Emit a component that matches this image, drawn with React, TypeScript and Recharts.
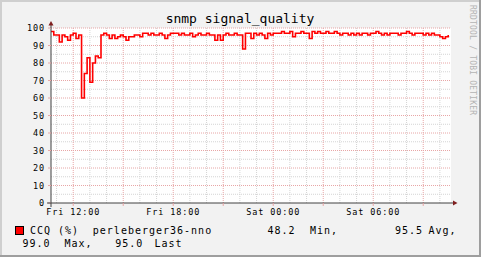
import { LineChart, Line, XAxis, YAxis, ReferenceLine, ReferenceDot, CartesianGrid } from "recharts";

// one sample every 10 minutes, first sample Fri 10:40
const STEP = 10;
const ccq = [
  98, 96, 96, 92, 96, 95, 93, 96, 97, 94, 96,
  60, 74, 83, 69, 80, 84, 83,
  96, 97, 96, 94, 96, 94, 95,
  96, 95, 93, 95, 95, 96, 96, 95, 97, 97, 96, 97, 96, 96, 97, 96, 94, 96, 97, 97, 97, 96, 97, 96, 96, 97, 95, 96, 97,
  96, 96, 97, 96, 96, 93, 96, 93, 96, 97, 96, 96, 97, 96, 96, 88, 97, 97, 94, 97, 96, 97, 96, 94, 97, 96, 97, 97,
  97, 98, 97, 97, 98, 95, 97, 97, 98, 97, 97, 94, 98, 97, 98, 97, 97, 98, 97, 97, 98, 97, 96, 97, 97, 96, 97, 96, 97,
  96, 97, 97, 96, 97, 97, 98, 97, 96, 97, 96, 97, 97, 97, 96, 97, 97, 98, 97, 96, 97, 97, 97, 96, 97, 96, 97, 96, 96, 95, 94, 95, 96,
];

const yTicks = [0, 10, 20, 30, 40, 50, 60, 70, 80, 90, 100];
const yMinor = [5, 15, 25, 35, 45, 55, 65, 75, 85, 95];
const xMajor = [80, 260, 440, 620, 800, 980, 1160, 1340];
const xMinor = [20, 140, 200, 320, 380, 500, 560, 680, 740, 860, 920, 1040, 1100, 1220, 1280, 1400];
const xLabelAt = [80, 440, 800, 1160];
const xLabelText = ["Fri 12:00", "Fri 18:00", "Sat 00:00", "Sat 06:00"];

const title = "snmp signal_quality";
const legendName = "CCQ (%)";
const legendHost = "perleberger36-nno";
const statValues = ["48.2", "95.5", "99.0", "95.0"];
const statNames = ["Min,", "Avg,", "Max,", "Last"];

const data = ccq.map((v, i) => ({ t: i * STEP, v }));

const MONO = "DejaVu Sans Mono, monospace";
const GRID = "#d4d4d4";
const MGRID = "#e8a6a6";
const AXIS = "#404040";
const ARROW = "#7f1f1f";

const XTick = (p: any) => {
  const idx = xLabelAt.indexOf(p.payload.value);
  if (idx < 0) return <g />;
  return (
    <text x={p.x} y={p.y} dy={6} textAnchor="middle" fontFamily={MONO} fontSize={8.5} fill="#000" style={{ letterSpacing: "0.9px" }}>
      {xLabelText[idx]}
    </text>
  );
};

const YTick = (p: any) => (
  <text x={p.x + 1} y={p.y} dy={3} textAnchor="end" fontFamily={MONO} fontSize={8.5} fill="#000" style={{ letterSpacing: "0.9px" }}>
    {p.payload.value}
  </text>
);

const UpArrow = (p: any) => (
  <g>
    <line x1={p.cx} y1={p.cy} x2={p.cx} y2={p.cy - 3} stroke={AXIS} strokeWidth={1} />
    <path d={`M${p.cx - 2.5} ${p.cy - 2.5}L${p.cx + 2.5} ${p.cy - 2.5}L${p.cx} ${p.cy - 7}Z`} fill={ARROW} />
  </g>
);

const RightArrow = (p: any) => (
  <g>
    <line x1={p.cx} y1={p.cy} x2={p.cx + 3} y2={p.cy} stroke={AXIS} strokeWidth={1} />
    <path d={`M${p.cx + 2} ${p.cy - 2.5}L${p.cx + 2} ${p.cy + 2.5}L${p.cx + 6.5} ${p.cy}Z`} fill={ARROW} />
  </g>
);

const Origin = (p: any) => (
  <g>
    <line x1={p.cx - 4} y1={p.cy} x2={p.cx} y2={p.cy} stroke={AXIS} strokeWidth={1} />
    <line x1={p.cx} y1={p.cy} x2={p.cx} y2={p.cy + 4} stroke={AXIS} strokeWidth={1} />
  </g>
);

export default function App() {
  return (
    <div style={{ position: "absolute", left: 0, top: 0, width: 481, height: 257, background: "#f2f2f2" }}>
      <LineChart width={481} height={257} data={data} margin={{ top: 28, right: 30, bottom: 34, left: 0 }}>
        <CartesianGrid fill="#ffffff" horizontal={false} vertical={false} />
        {yMinor.map((y) => (
          <ReferenceLine key={"ym" + y} y={y} stroke={GRID} strokeDasharray="1 1" />
        ))}
        {xMinor.map((x) => (
          <ReferenceLine key={"xm" + x} x={x} stroke={GRID} strokeDasharray="1 1" />
        ))}
        {yTicks.slice(1).map((y) => (
          <ReferenceLine key={"yM" + y} y={y} stroke={MGRID} strokeDasharray="1 1" />
        ))}
        {xMajor.map((x) => (
          <ReferenceLine key={"xM" + x} x={x} stroke={MGRID} strokeDasharray="1 1" />
        ))}
        <XAxis
          dataKey="t"
          type="number"
          domain={[0, 1440]}
          ticks={xMajor}
          tick={XTick}
          tickSize={3}
          tickMargin={3}
          height={20}
          axisLine={{ stroke: AXIS }}
          tickLine={{ stroke: MGRID }}
          interval={0}
        />
        <YAxis
          type="number"
          domain={[0, 100]}
          ticks={yTicks}
          tick={YTick}
          tickSize={3}
          tickMargin={4}
          width={51}
          axisLine={{ stroke: AXIS }}
          tickLine={{ stroke: MGRID }}
          interval={0}
        />
        <Line
          type="stepAfter"
          dataKey="v"
          stroke="#ff0000"
          strokeWidth={1.6}
          dot={false}
          isAnimationActive={false}
        />
        <ReferenceDot x={0} y={100} r={0} shape={UpArrow} />
        <ReferenceDot x={1440} y={0} r={0} shape={RightArrow} />
        <ReferenceDot x={0} y={0} r={0} shape={Origin} />
      </LineChart>
      <svg width={481} height={257} style={{ position: "absolute", left: 0, top: 0, pointerEvents: "none" }}>
        <text x={240} y={23} textAnchor="middle" fontFamily={MONO} fontSize={13} fill="#000">
          {title}
        </text>
        <text x={469.5} y={5} transform="rotate(90 469.5 5)" fontFamily={MONO} fontSize={8} fill="#b4b4b4" style={{ letterSpacing: "0.2px" }}>
          RRDTOOL / TOBI OETIKER
        </text>
        <rect x={15.5} y={226.5} width={8} height={8} fill="#ff0000" stroke="#000" strokeWidth={1} />
        <g fontFamily={MONO} fontSize={10} fill="#000" style={{ letterSpacing: "1px" }}>
          <text x={30} y={233.5}>{legendName}</text>
          <text x={92.8} y={233.5}>{legendHost}</text>
          <text x={267.5} y={233.5}>{statValues[0]}</text>
          <text x={310} y={233.5}>{statNames[0]}</text>
          <text x={395} y={233.5}>{statValues[1]}</text>
          <text x={428.5} y={233.5}>{statNames[1]}</text>
          <text x={22.5} y={247}>{statValues[2]}</text>
          <text x={64.5} y={247}>{statNames[2]}</text>
          <text x={115.3} y={247}>{statValues[3]}</text>
          <text x={154.5} y={247}>{statNames[3]}</text>
        </g>
        <path d="M1 256V1H480" stroke="#cfcfcf" strokeWidth={2} fill="none" />
        <path d="M0 256H480V0" stroke="#9e9e9e" strokeWidth={2} fill="none" />
      </svg>
    </div>
  );
}
